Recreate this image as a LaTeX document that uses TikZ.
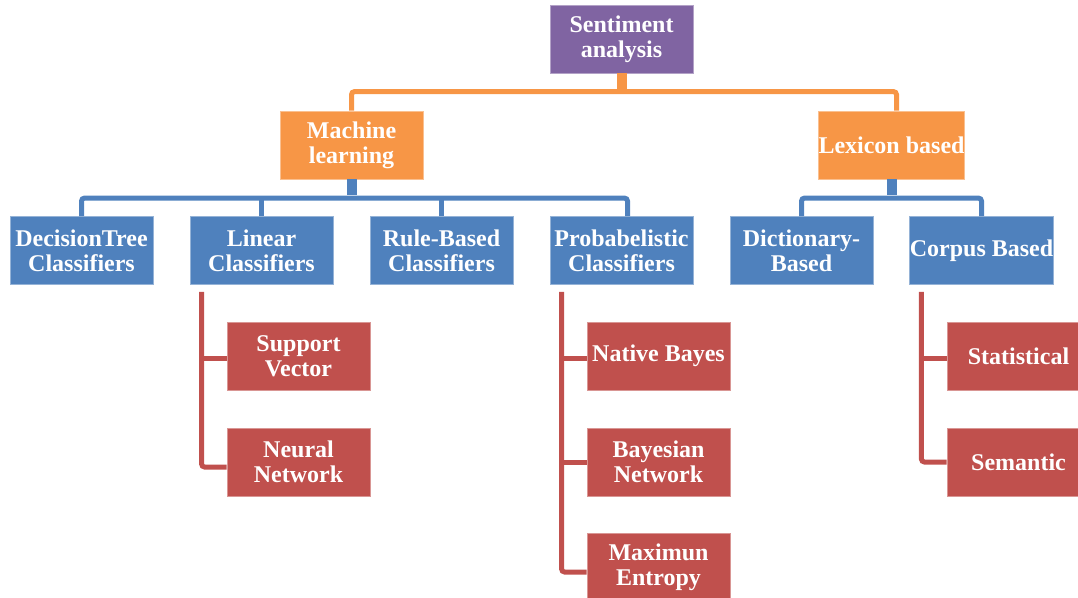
\documentclass[tikz,border=0pt]{standalone}
\usepackage{fontspec}
\setmainfont{Liberation Serif}
\usetikzlibrary{calc}
\definecolor{cpurple}{HTML}{8064A2}
\definecolor{corange}{HTML}{F79646}
\definecolor{cblue}{HTML}{4F81BD}
\definecolor{cred}{HTML}{C0504D}
\tikzset{
  box/.style={rectangle, minimum width=143pt, minimum height=68pt, inner sep=0pt,
    text=white, align=center, font=\fontsize{24}{25}\selectfont\bfseries, line width=0.8pt},
  pbox/.style={box, fill=cpurple, draw=cpurple!60!white},
  obox/.style={box, fill=corange, draw=corange!60!white},
  bbox/.style={box, fill=cblue, draw=cblue!60!white},
  rbox/.style={box, fill=cred, draw=cred!60!white},
  oline/.style={draw=corange, line width=5pt, rounded corners=3pt},
  bline/.style={draw=cblue, line width=5pt, rounded corners=3pt},
  rline/.style={draw=cred, line width=5pt, rounded corners=3pt},
  ostub/.style={draw=corange, line width=10pt},
  bstub/.style={draw=cblue, line width=10pt},
}
\begin{document}
\begin{tikzpicture}[x=1pt,y=-1pt]
\clip (0,0) rectangle (1078,597);
\useasboundingbox (0,0) rectangle (1078,597);
% nodes
\node[pbox] (root) at (621.5,39) {Sentiment\\analysis};
\node[obox] (ml) at (351.5,145) {Machine\\learning};
\node[obox] (lex) at (891.5,145) {Lexicon based};
\node[bbox] (dt) at (81.5,250.5) {DecisionTree\\Classifiers};
\node[bbox] (lin) at (261.5,250.5) {Linear\\Classifiers};
\node[bbox] (rb) at (441.5,250.5) {Rule-Based\\Classifiers};
\node[bbox] (pc) at (621.5,250.5) {Probabelistic\\Classifiers};
\node[bbox] (dic) at (801.5,250.5) {Dictionary-\\Based};
\node[bbox] (cor) at (981.5,250.5) {Corpus Based};
\node[rbox] (sv) at (298.5,356) {Support\\Vector};
\node[rbox] (nn) at (298.5,462) {Neural\\Network};
\node[rbox] (nb) at (658.5,356) {Native Bayes};
\node[rbox] (bn) at (658.5,462) {Bayesian\\Network};
\node[rbox] (me) at (658.5,567) {Maximun\\Entropy};
\node[rbox] (st) at (1018.5,356) {Statistical};
\node[rbox] (se) at (1018.5,462) {Semantic};
% orange connectors
\draw[oline] (ml.north) -- ++(0,-19) -| ($(lex.north)+(5,0)$);
\draw[ostub] (root.south) -- ++(0,17);
% blue connectors ML
\draw[bline] (dt.north) -- ++(0,-18) -| ($(pc.north)+(6,0)$);
\draw[bline] (lin.north) -- ++(0,-18);
\draw[bline] (rb.north) -- ++(0,-18);
\draw[bstub] (ml.south) -- ++(0,16);
% blue connectors Lexicon
\draw[bline] (dic.north) -- ++(0,-18) -| (cor.north);
\draw[bstub] (lex.south) -- ++(0,16);
% red connectors
\coordinate (la) at ($(lin.south west)+(12,7)$);
\draw[rline] (la) |- ($(nn.west)+(0,5)$);
\draw[rline] ($(sv.west)+(0,2)$) -- ($(sv.west -| la)+(0,2)$);
\coordinate (pa) at ($(pc.south west)+(12,7)$);
\draw[rline] (pa) |- ($(me.west)+(0,5)$);
\draw[rline] ($(nb.west)+(0,2)$) -- ($(nb.west -| pa)+(0,2)$);
\draw[rline] (bn.west) -- (bn.west -| pa);
\coordinate (ca) at ($(cor.south west)+(12,7)$);
\draw[rline] (ca) |- (se.west);
\draw[rline] ($(st.west)+(0,2)$) -- ($(st.west -| ca)+(0,2)$);
\end{tikzpicture}
\end{document}
